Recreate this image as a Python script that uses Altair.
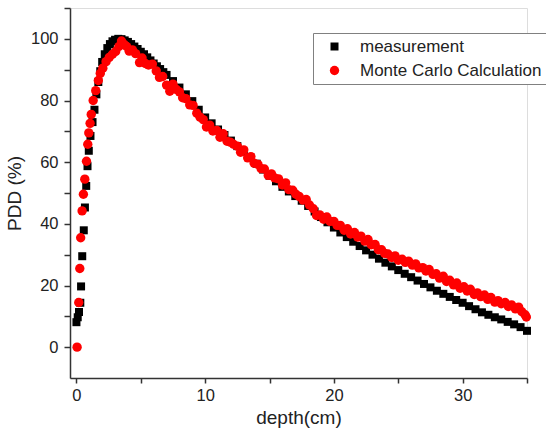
import altair as alt
import pandas as pd

# measurement (black squares)
meas_depth = [0.0, 0.1, 0.2, 0.3, 0.36, 0.45, 0.57, 0.66, 0.76, 0.86, 0.96, 1.09, 1.25, 1.4, 1.55,
              1.7, 1.85, 2.0, 2.2, 2.4, 2.6, 2.8, 3.0, 3.25, 3.5, 3.75, 4.0, 4.25, 4.5, 4.75,
              5.0, 5.25, 5.5, 5.75, 6.0, 6.25, 6.5, 6.75, 7.0, 7.5, 8.0, 8.5, 9.0, 9.5, 10.0,
              10.5, 11.0, 11.5, 12.0, 12.5, 13.0, 13.5, 14.0, 14.5, 15.0, 15.5, 16.0, 16.5, 17.0,
              17.5, 18.0, 18.5, 19.0, 19.5, 20.0, 20.5, 21.0, 21.5, 22.0, 22.5, 23.0, 23.5, 24.0,
              24.5, 25.0, 25.5, 26.0, 26.5, 27.0, 27.5, 28.0, 28.5, 29.0, 29.5, 30.0, 30.5, 31.0,
              31.5, 32.0, 32.5, 33.0, 33.5, 34.0, 34.5, 35.0]
meas_pdd = [8.1, 9.7, 11.4, 14.4, 19.7, 29.5, 37.9, 45.3, 52.3, 58.7, 63.7, 68.5, 73.0, 77.0, 82.0,
            86.0, 89.5, 92.5, 95.0, 97.0, 98.3, 99.2, 99.7, 100.0, 99.9, 99.5, 99.0, 98.3, 97.5, 96.7,
            95.8, 95.0, 94.0, 93.0, 92.0, 91.1, 90.2, 89.2, 88.3, 86.3, 84.2, 82.0, 79.8, 77.0, 74.5,
            72.6, 70.6, 68.8, 67.0, 65.2, 63.4, 61.6, 59.5, 57.6, 55.6, 53.8, 52.0, 50.5, 49.0,
            47.5, 45.8, 44.0, 42.2, 40.5, 38.8, 37.2, 35.7, 34.2, 32.8, 31.4, 30.0, 28.7, 27.4,
            26.2, 25.0, 23.8, 22.7, 21.6, 20.5, 19.4, 18.3, 17.3, 16.3, 15.3, 14.4, 13.3, 12.3,
            11.3, 10.5, 9.7, 9.0, 8.2, 7.4, 6.5, 5.3]

# Monte Carlo calculation (red circles)
mc_depth = [0.05, 0.18, 0.26, 0.33, 0.44, 0.54, 0.65, 0.78, 0.88, 0.96, 1.06, 1.15, 1.3, 1.5, 1.7,
            1.85, 2.05, 2.3, 2.55, 2.8, 3.05, 3.3, 3.5, 3.7, 3.9, 4.1, 4.35, 4.6, 4.9, 5.1, 5.35,
            5.6, 5.9, 6.2, 6.45, 6.7, 7.0, 7.25, 7.5, 7.75, 8.0, 8.25, 8.5, 8.8, 9.06, 9.35, 9.6,
            9.85, 10.1, 10.35, 10.6, 10.9, 11.15, 11.4, 11.7, 11.95, 12.2, 12.5, 12.75, 13.0, 13.3,
            13.55, 13.8, 14.1, 14.35, 14.6, 14.9, 15.15, 15.4, 15.7, 16.0, 16.25, 16.5, 16.8, 17.05,
            17.3, 17.6, 17.85, 18.1, 18.4, 18.65, 18.9, 19.2, 19.45, 19.7, 20.0, 20.25, 20.5, 20.8,
            21.05, 21.3, 21.6, 21.85, 22.1, 22.4, 22.65, 22.9, 23.2, 23.45, 23.7, 23.95, 24.2, 24.5,
            24.75, 25.0, 25.3, 25.55, 25.8, 26.1, 26.35, 26.6, 26.9, 27.15, 27.4, 27.7, 27.95, 28.2,
            28.5, 28.75, 29.0, 29.3, 29.55, 29.8, 30.1, 30.35, 30.6, 30.9, 31.15, 31.4, 31.7, 31.95,
            32.2, 32.5, 32.75, 33.0, 33.3, 33.55, 33.8, 34.1, 34.35, 34.6, 34.85, 34.95]
mc_pdd = [0.0, 14.5, 25.5, 35.5, 44.2, 49.6, 54.5, 60.3, 65.8, 69.5, 72.6, 75.5, 80.0, 83.2, 86.5,
          88.8, 90.5, 92.6, 94.0, 95.0, 95.9, 97.5, 99.3, 98.2, 97.5, 96.0, 96.4, 95.2, 92.3, 93.8, 92.0,
          91.5, 91.8, 89.6, 87.5, 87.8, 85.0, 83.0, 85.3, 83.6, 82.8, 80.9, 80.6, 78.6, 78.4, 75.9, 74.6,
          73.8, 71.4, 72.0, 70.1, 70.3, 68.1, 69.2, 66.8, 66.5, 65.8, 65.2, 63.2, 64.0, 61.4,
          61.8, 59.7, 59.3, 57.9, 57.8, 55.7, 56.2, 54.9, 54.6, 52.6, 53.3, 51.1, 50.9, 49.6,
          48.9, 47.7, 47.9, 46.1, 44.9, 42.7, 42.9, 41.5, 42.2, 40.8, 40.8, 39.5, 39.5, 37.9,
          38.4, 36.7, 37.2, 35.7, 36.0, 34.4, 34.9, 33.2, 33.3, 31.6, 31.6, 30.4, 30.2, 29.1,
          29.6, 28.2, 28.5, 27.5, 27.9, 26.6, 27.0, 25.7, 25.8, 24.7, 25.2, 23.6, 23.8, 22.4,
          23.0, 21.3, 21.7, 20.2, 20.8, 19.1, 19.6, 18.2, 18.8, 17.1, 17.6, 16.4, 16.9, 15.5,
          16.1, 14.6, 15.1, 14.1, 14.5, 13.2, 13.7, 12.4, 13.0, 11.5, 10.5, 9.8]

series_names = ["measurement", "Monte Carlo Calculation"]
series_colors = ["#000000", "#ff0000"]
series_shapes = ["square", "circle"]
series_sizes = [64, 88]

df = pd.concat([
    pd.DataFrame({"depth": meas_depth, "pdd": meas_pdd, "series": series_names[0], "order": 0}),
    pd.DataFrame({"depth": mc_depth, "pdd": mc_pdd, "series": series_names[1], "order": 1}),
], ignore_index=True)

FONT = "Liberation Sans"
AX = dict(grid=False, labelFontSize=16.5, titleFontSize=19, titleFontWeight="normal",
          labelFont=FONT, titleFont=FONT, domainColor="#333333", tickColor="#333333",
          domainWidth=1.5, tickWidth=1.5, labelColor="#222222", titleColor="#222222",
          labelFlush=False)

chart = alt.Chart(df).mark_point(filled=True, opacity=1, strokeWidth=0).encode(
    x=alt.X("depth:Q", scale=alt.Scale(domain=[-0.5, 35], nice=False, zero=False),
            axis=alt.Axis(title="depth(cm)", values=[0, 5, 10, 15, 20, 25, 30, 35],
                          labelExpr="datum.value % 10 == 0 ? datum.label : ''",
                          tickSize=5, labelPadding=4, titlePadding=5, **AX)),
    y=alt.Y("pdd:Q", scale=alt.Scale(domain=[-10, 110], nice=False, zero=False),
            axis=alt.Axis(title="PDD (%)", values=[0, 10, 20, 30, 40, 50, 60, 70, 80, 90, 100, 110],
                          labelExpr="datum.value % 20 == 0 ? datum.label : ''",
                          tickSize=6, labelPadding=6, titlePadding=6, **AX)),
    color=alt.Color("series:N", scale=alt.Scale(domain=series_names, range=series_colors),
                    legend=alt.Legend(title=None, orient="none", legendX=243, legendY=25,
                                      fillColor="white", strokeColor="#808080", padding=5,
                                      labelFontSize=17, labelFont=FONT, labelColor="#222222",
                                      labelLimit=0, symbolSize=64, symbolOffset=8, labelOffset=17,
                                      rowPadding=6, symbolStrokeWidth=0)),
    shape=alt.Shape("series:N", scale=alt.Scale(domain=series_names, range=series_shapes)),
    size=alt.Size("series:N", scale=alt.Scale(domain=series_names, range=series_sizes), legend=None),
    order=alt.Order("order:Q"),
).properties(
    width=457, height=370,
    padding={"left": 70, "top": 8, "right": 19, "bottom": 63},
    autosize=alt.AutoSizeParams(type="none"),
).configure_view(stroke=None).configure(background="white")

chart.save("out.html", embed_options={"renderer": "svg", "actions": False})
